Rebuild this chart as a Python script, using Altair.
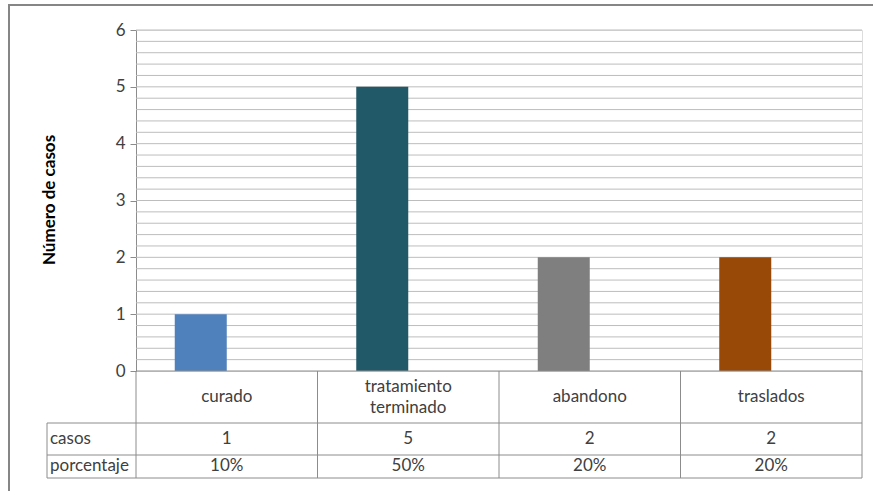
import altair as alt
import pandas as pd

categories = ["curado", "tratamiento\nterminado", "abandono", "traslados"]
casos = [1, 5, 2, 2]
porcentaje = ["10%", "50%", "20%", "20%"]
colors = ["#4f81bd", "#215968", "#7f7f7f", "#984807"]
y_ticks = [0, 1, 2, 3, 4, 5, 6]
grid_vals = [i / 5 for i in range(1, 31)]

FONT = "Lato"
FS = 17
W, H = 726, 341
GRID = "#bdbdbd"
LINE = "#8c8c8c"
TXT = "#404040"

df = pd.DataFrame({"cat": categories, "casos": casos, "pct": porcentaje, "color": colors})
df["casos_txt"] = df["casos"].astype(str)
df["multi"] = df["cat"].str.contains("\n")

xscale = alt.Scale(domain=categories, paddingInner=0, paddingOuter=0)
yscale = alt.Scale(domain=[0, 6], nice=False)

grid = alt.Chart(pd.DataFrame({"g": grid_vals})).mark_rule(color=GRID, strokeWidth=1).encode(
    y=alt.Y("g:Q", scale=yscale,
            axis=alt.Axis(values=y_ticks, grid=False, title=None, domainColor=LINE,
                          tickColor=LINE, tickSize=6, labelFontSize=17, labelColor=TXT,
                          labelFont=FONT, labelPadding=5, format="d")),
    x=alt.value(0), x2=alt.value(W),
)

bars = alt.Chart(df).mark_bar(width=52, xOffset=-26).encode(
    x=alt.X("cat:N", scale=xscale, sort=categories, axis=None),
    y=alt.Y("casos:Q", scale=yscale),
    color=alt.Color("color:N", scale=None),
)

cat_single = alt.Chart(df).transform_filter("!datum.multi").mark_text(
    font=FONT, fontSize=FS, color=TXT, baseline="middle").encode(
    x=alt.X("cat:N", scale=xscale, sort=categories),
    y=alt.value(367),
    text="cat:N",
)
cat_multi = alt.Chart(df).transform_filter("datum.multi").mark_text(
    font=FONT, fontSize=FS, color=TXT, lineBreak="\n", baseline="middle", lineHeight=21).encode(
    x=alt.X("cat:N", scale=xscale, sort=categories),
    y=alt.value(357),
    text="cat:N",
)
casos_text = alt.Chart(df).mark_text(font=FONT, fontSize=FS, color=TXT, baseline="middle").encode(
    x=alt.X("cat:N", scale=xscale, sort=categories),
    y=alt.value(409),
    text="casos_txt:N",
)
pct_text = alt.Chart(df).mark_text(font=FONT, fontSize=FS, color=TXT, baseline="middle").encode(
    x=alt.X("cat:N", scale=xscale, sort=categories),
    y=alt.value(436),
    text="pct:N",
)

row_labels = pd.DataFrame({"lab": ["casos", "porcentaje"], "yy": [409, 436]})
row_text = alt.Chart(row_labels).mark_text(font=FONT, fontSize=FS, color=TXT, align="left",
                                           baseline="middle").encode(
    x=alt.value(-86), y=alt.Y("yy:Q", scale=None), text="lab:N",
)

vlines = alt.Chart(df).mark_rule(color=LINE, strokeWidth=1).encode(
    x=alt.X("cat:N", scale=xscale, sort=categories, bandPosition=0),
    y=alt.value(H), y2=alt.value(448),
)
vlast = alt.Chart(df.tail(1)).mark_rule(color=LINE, strokeWidth=1).encode(
    x=alt.X("cat:N", scale=xscale, sort=categories, bandPosition=1),
    y=alt.value(H), y2=alt.value(448),
)
vleft = alt.Chart(df.head(1)).mark_rule(color=LINE, strokeWidth=1).encode(
    x=alt.value(-89), y=alt.value(393), y2=alt.value(448),
)
hl = pd.DataFrame({"yy": [393, 425, 448]})
hlines = alt.Chart(hl).mark_rule(color=LINE, strokeWidth=1).encode(
    x=alt.value(-89), x2=alt.value(W), y=alt.Y("yy:Q", scale=None),
)
hzero = alt.Chart(df.head(1)).mark_rule(color=LINE, strokeWidth=1).encode(
    x=alt.value(0), x2=alt.value(W), y=alt.value(H),
)

title = alt.Chart(df.head(1)).mark_text(text="Número de casos", angle=270, font=FONT, fontSize=17,
                                        fontWeight="bold", color="#000000", baseline="middle").encode(
    x=alt.value(-86), y=alt.value(170),
)

border = alt.Chart(df.head(1)).mark_rect(fill=None, stroke="#868686", strokeWidth=2).encode(
    x=alt.value(-127), y=alt.value(-25), x2=alt.value(760), y2=alt.value(480),
)

chart = alt.layer(border, grid, bars, hzero, vlines, vlast, vleft, hlines,
                  cat_single, cat_multi, casos_text, pct_text, row_text, title).properties(
    width=W, height=H,
    autosize=alt.AutoSizeParams(type="none"),
    padding={"left": 136, "top": 30, "right": 11, "bottom": 120},
).configure_view(stroke=None).configure(background="white")

chart.save("out.html", embed_options={"renderer": "svg", "actions": False})
